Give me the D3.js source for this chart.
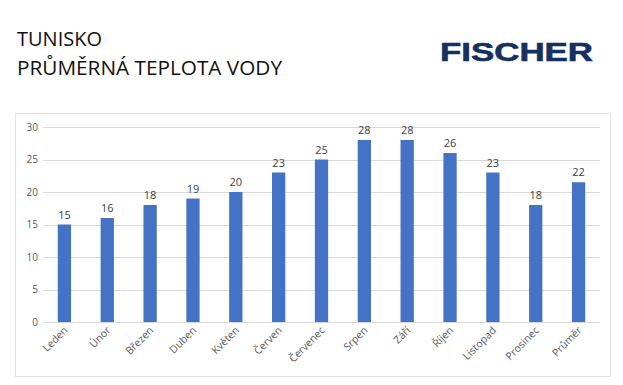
<!DOCTYPE html>
<html>
<head>
<meta charset="utf-8">
<script src="https://cdn.jsdelivr.net/npm/d3@7"></script>
<style>
  body { margin: 0; background: #fff; }
</style>
</head>
<body>
<script>
// Chart data
var months = ['Leden', 'Únor', 'Březen', 'Duben', 'Květen', 'Červen', 'Červenec',
              'Srpen', 'Září', 'Říjen', 'Listopad', 'Prosinec', 'Průměr'];
var temps = [15, 16, 18, 19, 20, 23, 25, 28, 28, 26, 23, 18, 21.5];
var yTicks = [0, 5, 10, 15, 20, 25, 30];

var width = 623;
var height = 385;

var svg = d3.select('body')
    .append('svg')
    .attr('width', width)
    .attr('height', height);

svg.append('rect')
    .attr('width', width)
    .attr('height', height)
    .attr('fill', '#fff');

// Title lines
svg.append('text')
    .attr('x', 17)
    .attr('y', 46)
    .attr('font-family', 'Open Sans')
    .attr('font-size', 20)
    .attr('fill', '#111')
    .text('TUNISKO');

svg.append('text')
    .attr('x', 17)
    .attr('y', 75)
    .attr('font-family', 'Open Sans')
    .attr('font-size', 20)
    .attr('fill', '#111')
    .attr('textLength', 265)
    .attr('lengthAdjust', 'spacingAndGlyphs')
    .text('PRŮMĚRNÁ TEPLOTA VODY');

// Logo text
svg.append('text')
    .attr('x', 440)
    .attr('y', 61)
    .attr('font-family', 'Liberation Sans')
    .attr('font-weight', 'bold')
    .attr('font-size', 25)
    .attr('fill', '#16305f')
    .attr('stroke', '#16305f')
    .attr('stroke-width', 0.6)
    .attr('textLength', 153)
    .attr('lengthAdjust', 'spacingAndGlyphs')
    .text('FISCHER');

// Chart frame
svg.append('rect')
    .attr('x', 15.5)
    .attr('y', 113.5)
    .attr('width', 595)
    .attr('height', 263)
    .attr('fill', 'none')
    .attr('stroke', '#e3e3e3');

var xScale = d3.scaleBand()
    .domain(months)
    .range([43, 600])
    .paddingInner(0.69)
    .paddingOuter(0.345);

var yScale = d3.scaleLinear()
    .domain([0, 30])
    .range([322, 127]);

// Gridlines
svg.selectAll('.grid')
    .data(yTicks)
    .enter()
    .append('line')
    .attr('class', 'grid')
    .attr('x1', 43)
    .attr('x2', 600)
    .attr('y1', function(d){ return Math.round(yScale(d)) + 0.5; })
    .attr('y2', function(d){ return Math.round(yScale(d)) + 0.5; })
    .attr('stroke', '#d9d9d9')
    .attr('stroke-width', 1);

// Y axis labels
var yAxis = d3.axisLeft(yScale).tickValues(yTicks).tickSize(0).tickPadding(5);
var yAxisGroup = svg.append('g')
    .attr('transform', 'translate(43,0)')
    .call(yAxis);
yAxisGroup.select('.domain').remove();
yAxisGroup.selectAll('text')
    .attr('font-family', 'Open Sans')
    .attr('font-size', 10)
    .attr('fill', '#595959');

// Bars
svg.selectAll('.bar')
    .data(temps)
    .enter()
    .append('rect')
    .attr('class', 'bar')
    .attr('x', function(d, i){ return xScale(months[i]); })
    .attr('y', function(d){ return yScale(d); })
    .attr('width', xScale.bandwidth())
    .attr('height', function(d){ return yScale(0) - yScale(d); })
    .attr('fill', '#4472c4');

// Value labels
svg.selectAll('.val')
    .data(temps)
    .enter()
    .append('text')
    .attr('class', 'val')
    .attr('x', function(d, i){ return xScale(months[i]) + xScale.bandwidth() / 2; })
    .attr('y', function(d){ return yScale(d) - 6; })
    .attr('text-anchor', 'middle')
    .attr('font-family', 'Open Sans')
    .attr('font-size', 11)
    .attr('fill', '#404040')
    .text(function(d){ return d3.format('.0f')(d); });

// X axis labels, rotated
var xAxis = d3.axisBottom(xScale).tickSize(0).tickPadding(0);
var xAxisGroup = svg.append('g')
    .attr('transform', 'translate(0,322)')
    .call(xAxis);
xAxisGroup.select('.domain').remove();
xAxisGroup.selectAll('text')
    .attr('font-family', 'Open Sans')
    .attr('font-size', 10.5)
    .attr('fill', '#595959')
    .attr('text-anchor', 'end')
    .attr('dy', 0)
    .attr('transform', 'translate(4,9) rotate(-45)');
</script>
</body>
</html>
